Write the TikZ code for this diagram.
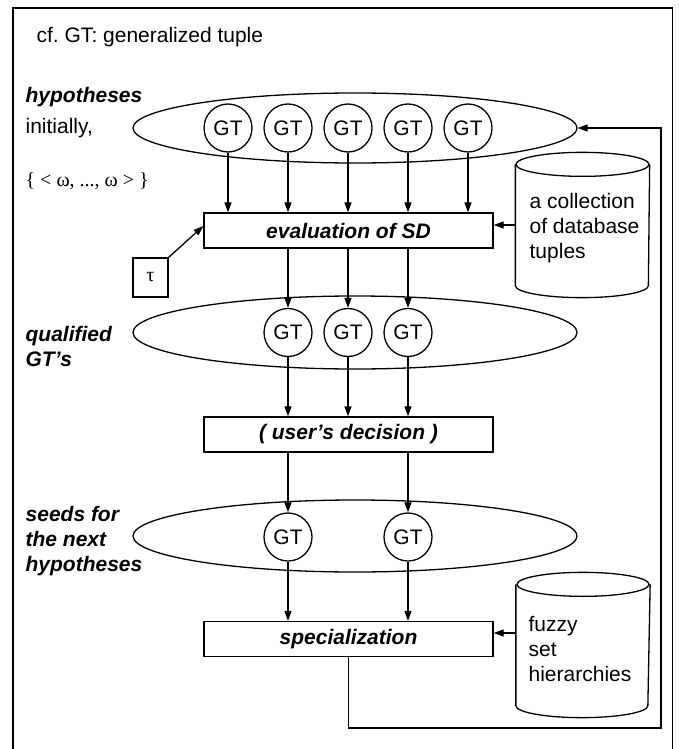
\documentclass[tikz,border=0pt]{standalone}
\usepackage{fontspec}
\setmainfont{Liberation Sans}
\newfontfamily\serifmath{Liberation Serif}
\usetikzlibrary{shapes.geometric,arrows.meta}
\frenchspacing
\begin{document}
\begin{tikzpicture}[x=1pt,y=-1pt,line width=1.3pt,
  txt/.style={font=\fontsize{21}{25}\selectfont},
  lbl/.style={font=\fontsize{21}{25}\selectfont\bfseries\itshape, align=left, anchor=west, inner sep=0},
  plain/.style={font=\fontsize{21}{25}\selectfont, align=left, anchor=west, inner sep=0},
  group/.style={draw, ellipse, minimum width=444, inner sep=0},
  gt/.style={draw, circle, minimum size=48, inner sep=0, font=\fontsize{21}{25}\selectfont},
  stage/.style={draw, rectangle, minimum width=289, minimum height=35, inner sep=0,
    font=\fontsize{21}{25}\selectfont\bfseries\itshape},
  arr/.style={-{Triangle[length=10pt,width=7pt]}},
  store/.style={minimum width=133, minimum height=120, inner sep=0},
]
\useasboundingbox (0,0) rectangle (678,749);

% open frame (no bottom edge)
\draw[line width=1.6pt] (13,749) -- (13,8) -- (672.5,8) -- (672.5,749);

\node[txt, anchor=base west, inner sep=0] (title) at (36,43) {cf. GT: generalized tuple};

% side labels
\node[lbl] (lhyp) at (25,97) {hypotheses};
\node[plain] (linit) at (25,128) {initially,};
\node[plain, font=\fontsize{20}{24}\serifmath] (lomega) at (25,181) {\{ < ω, ..., ω > \}};
\node[lbl] (lqual) at (25,346) {qualified\\GT’s};
\node[lbl] (lseed) at (25,541) {seeds for\\the next\\hypotheses};

% groups of generalized tuples
\node[group, minimum height=70] (hyp) at (355,128) {};
\node[group, minimum height=73] (qual) at (355,332.5) {};
\node[group, minimum height=72] (seed) at (355,536) {};

\foreach \i/\x in {1/228,2/288,3/348,4/408,5/468}
  \node[gt] (h\i) at (\x,128) {GT};
\foreach \i/\x in {1/288,2/348,3/408}
  \node[gt] (q\i) at (\x,332.5) {GT};
\foreach \i/\x in {1/288,2/408}
  \node[gt] (s\i) at (\x,537) {GT};

% processing stages
\node[stage] (eval) at (348.5,230.5) {evaluation of SD};
\node[stage] (user) at (348.5,434.5) {( user’s decision )};
\node[stage] (spec) at (348.5,639) {specialization};

% threshold
\node[draw, minimum width=35, minimum height=39, inner sep=0, font=\fontsize{20}{24}\serifmath] (tau) at (150.5,277.5) {τ};

% data stores (cylinders)
\node[store] (db) at (582.5,225) {};
\node[store] (fz) at (583,645) {};
\draw (db.north) ellipse[x radius=66.5, y radius=12];
\draw (db.north west) -- (db.south west) arc[start angle=180, end angle=0, x radius=66.5, y radius=12] -- (db.north east);
\draw (fz.north) ellipse[x radius=66, y radius=12];
\draw (fz.north west) -- (fz.south west) arc[start angle=180, end angle=0, x radius=66, y radius=12] -- (fz.north east);
\node[plain] (dbt) at (529,228) {a collection\\of database\\tuples};
\node[plain] (fzt) at (528,649) {fuzzy\\set\\hierarchies};

% flows
\foreach \i in {1,...,5}
  \draw[arr] (h\i.south) -- (h\i.south |- eval.north);
\foreach \i in {1,2,3}
  \draw[arr] (q\i.north |- eval.south) -- (q\i.north);
\foreach \i in {1,2,3}
  \draw[arr] (q\i.south) -- (q\i.south |- user.north);
\foreach \i in {1,2}
  \draw[arr] (s\i.north |- user.south) -- (s\i.north);
\foreach \i in {1,2}
  \draw[arr] (s\i.south) -- (s\i.south |- spec.north);

\draw[arr] (tau.north east) -- ([yshift=4.5pt]eval.west);
\draw[arr] (db.west) -- (db.west -| eval.east);
\draw[arr] ([yshift=12pt]fz.west) -- ([yshift=12pt]fz.west -| spec.east);

% feedback to the next hypotheses
\coordinate (loop) at (661,728);
\draw[arr] (spec.south) |- (loop) |- (hyp.east);
\end{tikzpicture}
\end{document}
